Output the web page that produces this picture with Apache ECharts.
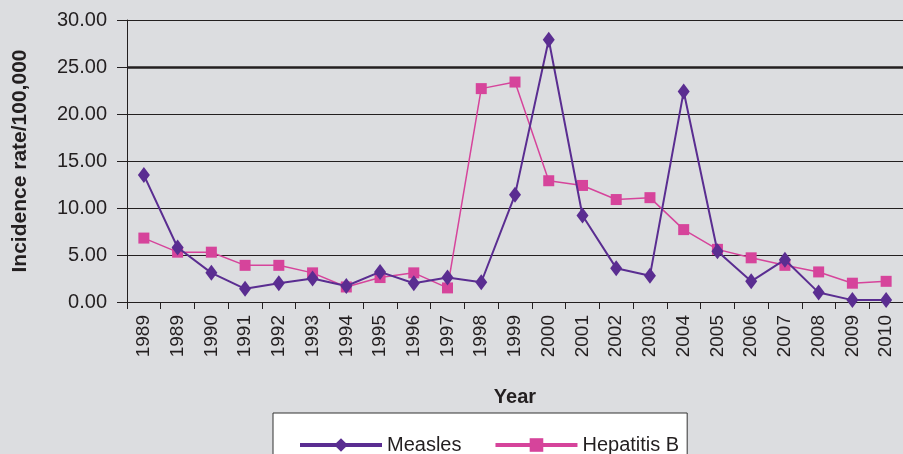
<!DOCTYPE html>
<html>
<head>
<meta charset="utf-8">
<script src="https://cdn.jsdelivr.net/npm/echarts@6/dist/echarts.min.js"></script>
<style>
html,body{margin:0;padding:0;background:#dcdde0;}
#chart{width:903px;height:454px;}
</style>
</head>
<body>
<div id="chart"></div>
<script>
const years = ['1989','1989','1990','1991','1992','1993','1994','1995','1996','1997','1998','1999','2000','2001','2002','2003','2004','2005','2006','2007','2008','2009','2010'];
const measles = [13.5, 5.8, 3.1, 1.4, 2.0, 2.5, 1.7, 3.2, 2.0, 2.6, 2.1, 11.4, 27.9, 9.2, 3.6, 2.8, 22.4, 5.4, 2.2, 4.5, 1.0, 0.2, 0.2];
const hepatitisB = [6.8, 5.3, 5.3, 3.9, 3.9, 3.1, 1.6, 2.6, 3.1, 1.5, 22.7, 23.4, 12.9, 12.4, 10.9, 11.1, 7.7, 5.6, 4.7, 3.9, 3.2, 2.0, 2.2];
const yTicks = [0, 5, 10, 15, 20, 25, 30];

const dark = '#231f20';
const chart = echarts.init(document.getElementById('chart'));
chart.setOption({
  backgroundColor: '#dcdde0',
  animation: false,
  grid: {left: 127, top: 20, right: -4, bottom: 152, containLabel: false},
  legend: {
    left: 273, top: 413,
    backgroundColor: '#ffffff',
    borderColor: '#333333', borderWidth: 1,
    padding: [22, 8, 12, 25],
    itemWidth: 82, itemHeight: 17, itemGap: 32,
    lineStyle: {width: 4},
    textStyle: {fontFamily: 'Liberation Sans, Arial, sans-serif', fontSize: 20, color: '#231f20'},
    data: ['Measles', 'Hepatitis B']
  },
  xAxis: {
    type: 'category',
    data: years,
    boundaryGap: true,
    name: 'Year',
    nameLocation: 'middle',
    nameGap: 85,
    nameTextStyle: {fontFamily: 'Liberation Sans Narrow, Arial Narrow, sans-serif', fontWeight: 'bold', fontSize: 20, color: dark},
    axisLine: {lineStyle: {color: dark, width: 1}},
    axisTick: {show: true, alignWithLabel: false, length: 7, lineStyle: {color: dark}},
    axisLabel: {rotate: 90, margin: 13, interval: 0, fontFamily: 'Liberation Sans, Arial, sans-serif', fontSize: 19, color: dark},
    splitLine: {show: false}
  },
  yAxis: {
    type: 'value',
    min: 0, max: 30, interval: 5,
    name: 'Incidence rate/100,000',
    nameLocation: 'middle',
    nameGap: 96,
    nameTextStyle: {fontFamily: 'Liberation Sans, Arial, sans-serif', fontWeight: 'bold', fontSize: 21, color: dark},
    axisLine: {show: true, lineStyle: {color: dark, width: 1}},
    axisTick: {show: true, length: 10, lineStyle: {color: dark}},
    axisLabel: {margin: 20, fontFamily: 'Liberation Sans, Arial, sans-serif', fontSize: 20, color: dark,
      formatter: v => yTicks.includes(v) ? v.toFixed(2) : ''},
    splitLine: {show: true, lineStyle: {color: dark, width: 1}}
  },
  series: [
    {
      name: 'Hepatitis B',
      type: 'line',
      data: hepatitisB,
      symbol: 'rect',
      symbolSize: 11,
      lineStyle: {color: '#d6449b', width: 1.5},
      itemStyle: {color: '#d6449b'},
      z: 2
    },
    {
      name: 'Measles',
      type: 'line',
      data: measles,
      symbol: 'diamond',
      symbolSize: [12, 16],
      lineStyle: {color: '#5a2d91', width: 2},
      itemStyle: {color: '#5a2d91'},
      z: 3,
      markLine: {
        silent: true, symbol: 'none', label: {show: false},
        lineStyle: {color: dark, width: 2.5, type: 'solid'},
        data: [{yAxis: 25}]
      }
    }
  ]
});
</script>
</body>
</html>
